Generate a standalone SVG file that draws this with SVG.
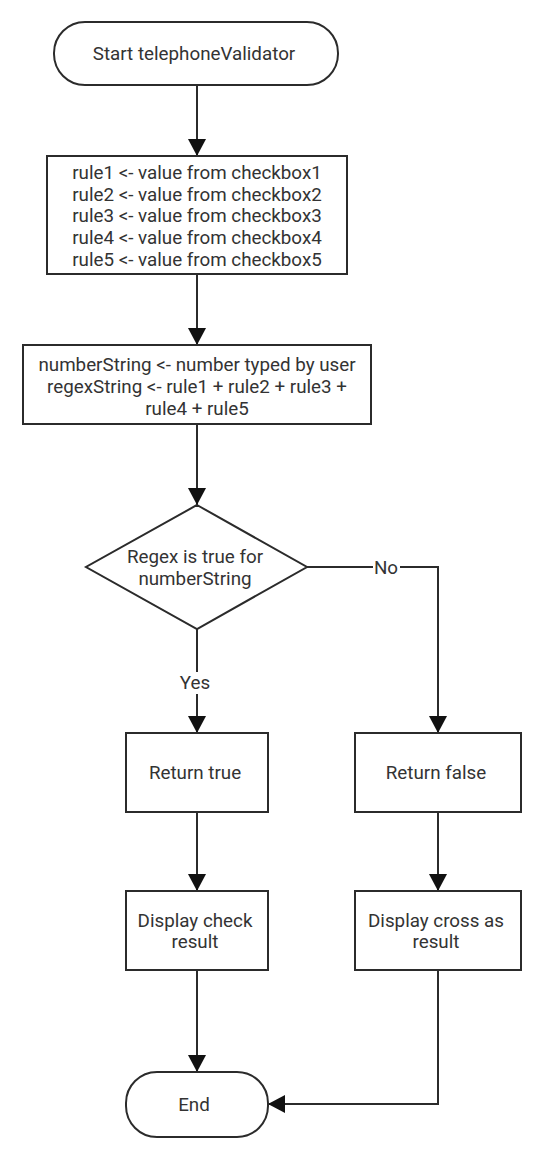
<svg xmlns="http://www.w3.org/2000/svg" width="552" height="1165" viewBox="0 0 552 1165">
<style>
.n{fill:#fff;stroke:#2b2b2b;stroke-width:2}
.t{font-family:Roboto,"Liberation Sans",sans-serif;font-size:18.8px;fill:#333;text-anchor:middle;dominant-baseline:central}
.c{fill:none;stroke:#2b2b2b;stroke-width:2}
</style>
<defs>
<marker id="ah" markerUnits="userSpaceOnUse" markerWidth="18" markerHeight="18" viewBox="0 0 18 18" refX="17" refY="9" orient="auto">
<path d="M0,0 L17,9 L0,18 Z" fill="#111"/>
</marker>
</defs>
<rect width="552" height="1165" fill="#fff"/>
<g id="connectors">
<path class="c" d="M197,85 V156" marker-end="url(#ah)"/>
<path class="c" d="M197,274 V345" marker-end="url(#ah)"/>
<path class="c" d="M197,424 V505" marker-end="url(#ah)"/>
<path class="c" d="M197,629 V733" marker-end="url(#ah)"/>
<path class="c" d="M307,567 H438 V733" marker-end="url(#ah)"/>
<path class="c" d="M197,812 V891" marker-end="url(#ah)"/>
<path class="c" d="M438,812 V891" marker-end="url(#ah)"/>
<path class="c" d="M197,970 V1072" marker-end="url(#ah)"/>
<path class="c" d="M438,970 V1104 H268" marker-end="url(#ah)"/>
<rect x="180" y="672" width="32" height="22" fill="#fff"/>
<text class="t" x="195" y="683">Yes</text>
<rect x="373" y="556" width="27" height="22" fill="#fff"/>
<text class="t" x="386" y="568">No</text>
</g>
<g id="start">
<rect class="n" x="54" y="22" width="284" height="63" rx="31" ry="31"/>
<text class="t" x="194" y="54">Start telephoneValidator</text>
</g>
<g id="rules">
<rect class="n" x="47" y="156" width="300" height="118"/>
<text class="t" x="197" y="173">rule1 &lt;- value from checkbox1</text>
<text class="t" x="197" y="195">rule2 &lt;- value from checkbox2</text>
<text class="t" x="197" y="216">rule3 &lt;- value from checkbox3</text>
<text class="t" x="197" y="238">rule4 &lt;- value from checkbox4</text>
<text class="t" x="197" y="260">rule5 &lt;- value from checkbox5</text>
</g>
<g id="strings">
<rect class="n" x="23" y="345" width="348" height="79"/>
<text class="t" x="197" y="365">numberString &lt;- number typed by user</text>
<text class="t" x="197" y="387">regexString &lt;- rule1 + rule2 + rule3 +</text>
<text class="t" x="197" y="409">rule4 + rule5</text>
</g>
<g id="decision">
<polygon class="n" points="197,505 307,567 197,629 86,567"/>
<text class="t" x="195" y="557">Regex is true for</text>
<text class="t" x="195" y="579">numberString</text>
</g>
<g id="return-true">
<rect class="n" x="126" y="733" width="142" height="79"/>
<text class="t" x="195" y="773">Return true</text>
</g>
<g id="return-false">
<rect class="n" x="355" y="733" width="166" height="79"/>
<text class="t" x="436" y="773">Return false</text>
</g>
<g id="display-check">
<rect class="n" x="126" y="891" width="142" height="79"/>
<text class="t" x="195" y="921">Display check</text>
<text class="t" x="195" y="942">result</text>
</g>
<g id="display-cross">
<rect class="n" x="355" y="891" width="166" height="79"/>
<text class="t" x="436" y="921">Display cross as</text>
<text class="t" x="436" y="942">result</text>
</g>
<g id="end">
<rect class="n" x="126" y="1072" width="142" height="65" rx="31" ry="31"/>
<text class="t" x="194" y="1105">End</text>
</g>
</svg>
